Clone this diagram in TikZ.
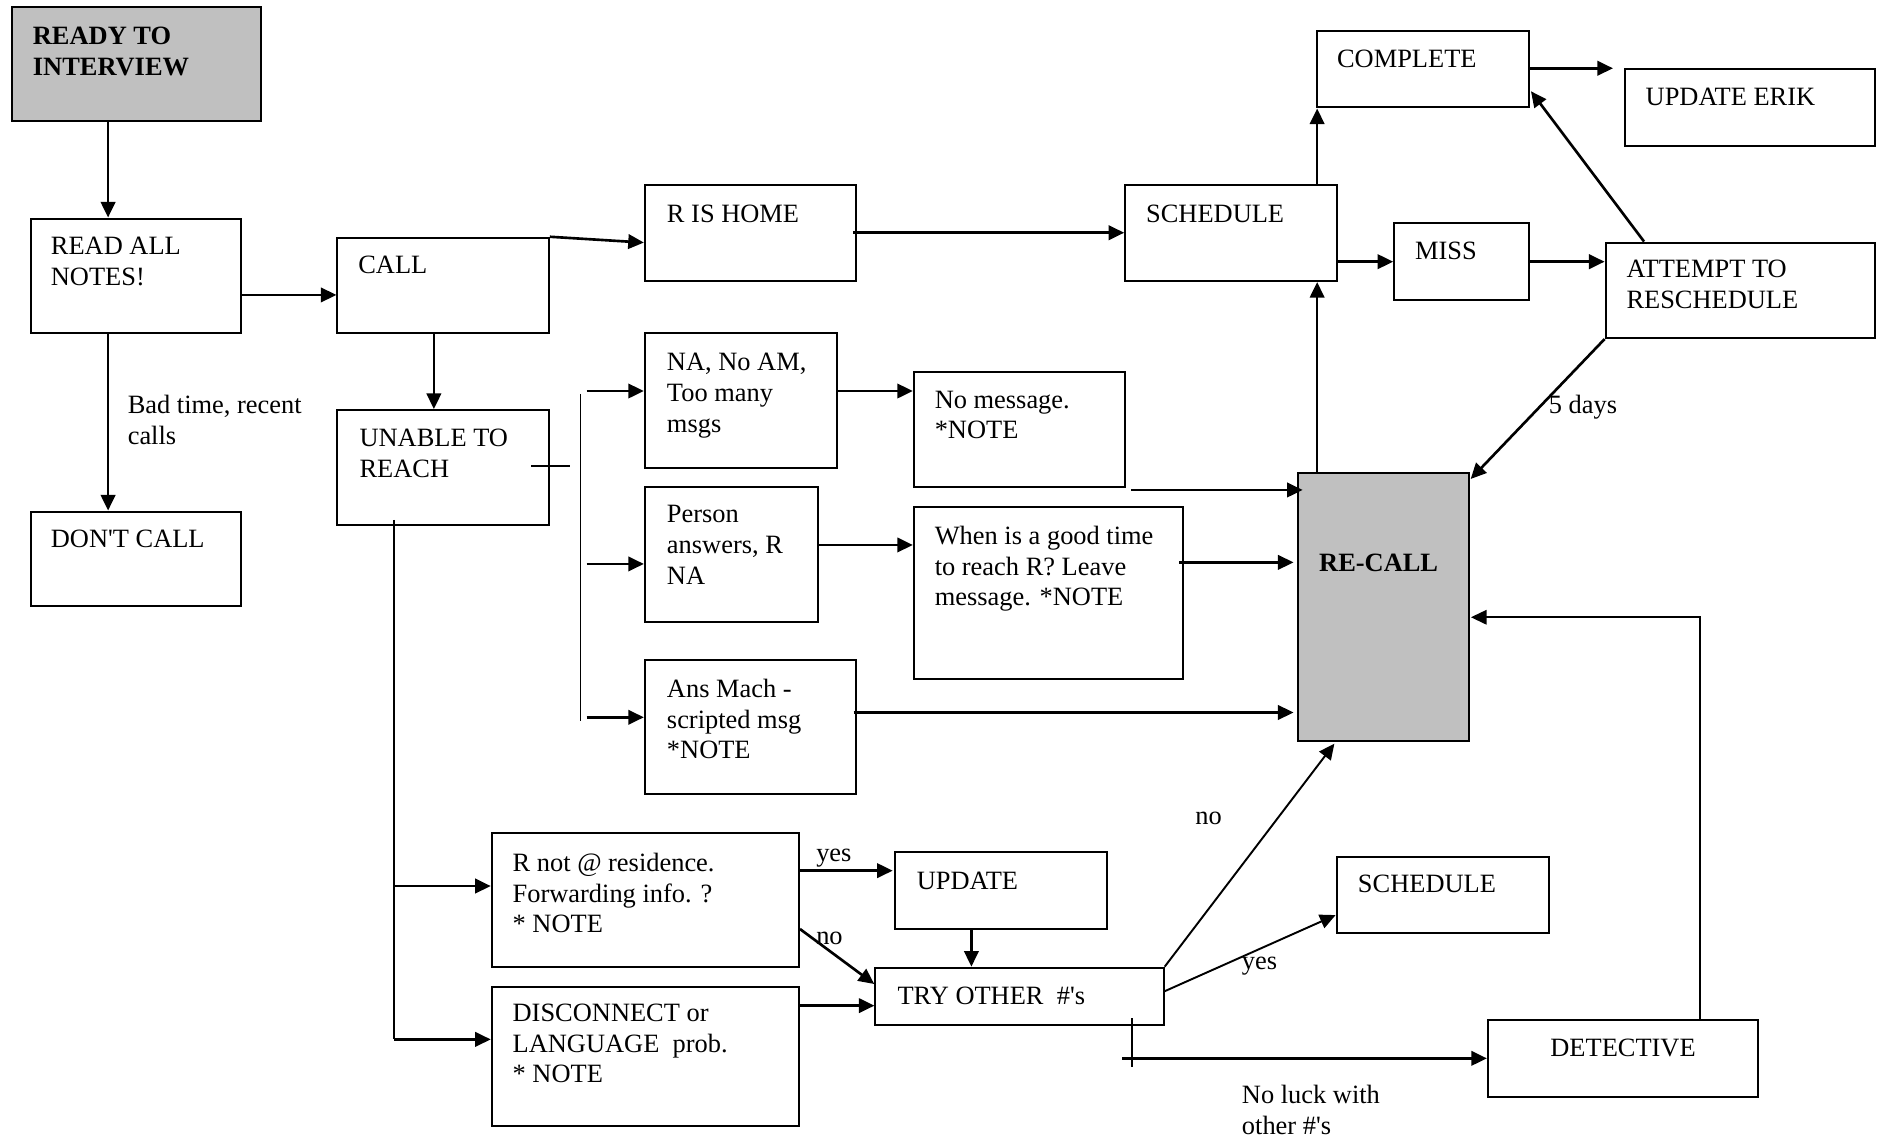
\documentclass[tikz,border=0pt]{standalone}
\usepackage{fontspec}
\setmainfont{Liberation Serif}
\usetikzlibrary{arrows.meta,fit,calc}
\definecolor{boxgrey}{RGB}{192,192,192}
\begin{document}
\begin{tikzpicture}[x=0.5pt,y=-0.5pt,
  box/.style={draw, line width=0.85pt, inner sep=0pt},
  greybox/.style={box, fill=boxgrey},
  txt/.style={inner sep=0pt, anchor=north west, align=left, font=\fontsize{11pt}{12.8pt}\selectfont},
  ctxt/.style={txt, anchor=north, align=center},
  arr/.style={line width=1.1pt, -{Triangle[length=6.5pt,width=6pt]}},
  thinarr/.style={line width=0.8pt, -{Triangle[length=6.5pt,width=6pt]}},
  thinline/.style={line width=0.7pt}]
\useasboundingbox (0,0) rectangle (1568,947);

% boxes
\node[greybox, fit={(10,6) (217,101)}] (ready) {};
\node[box, fit={(26,182) (201,277)}] (readall) {};
\node[box, fit={(281,198) (457,277)}] (call) {};
\node[box, fit={(537,154) (713,234)}] (rhome) {};
\node[box, fit={(937,154) (1113,234)}] (sched1) {};
\node[box, fit={(1097,26) (1273,89.5)}] (complete) {};
\node[box, fit={(1353,57.7) (1561,121.6)}] (erik) {};
\node[box, fit={(1161,186) (1273,249.5)}] (miss) {};
\node[box, fit={(1337,202) (1561,281.5)}] (attempt) {};
\node[box, fit={(26,426) (201,505)}] (dont) {};
\node[box, fit={(281,341.5) (457,437.5)}] (unable) {};
\node[box, fit={(537,277.6) (697,389.4)}] (na) {};
\node[box, fit={(761,309.5) (937,405.2)}] (nomsg) {};
\node[box, fit={(537,405.2) (681,517.7)}] (person) {};
\node[box, fit={(761,421.9) (985,565.4)}] (when) {};
\node[box, fit={(537,549.6) (713,661.2)}] (ans) {};
\node[greybox, fit={(1081,394) (1223,617)}] (recall) {};
\node[box, fit={(409.5,693.5) (665.3,805.5)}] (rnot) {};
\node[box, fit={(745.2,709.2) (921.5,773.3)}] (update) {};
\node[box, fit={(729,805.8) (969,853.5)}] (try) {};
\node[box, fit={(409.5,821.6) (665.3,937.4)}] (disc) {};
\node[box, fit={(1113,713.4) (1289.5,777.2)}] (sched2) {};
\node[box, fit={(1239,849.4) (1463.5,913.2)}] (detective) {};

% box texts
\node[txt] (t_ready) at (27,22) {\bfseries READY TO\\\bfseries INTERVIEW};
\node[txt] (t_readall) at (42,197) {READ ALL\\NOTES!};
\node[txt] (t_call) at (298,213) {CALL};
\node[txt] (t_rhome) at (555,170) {R IS HOME};
\node[txt] (t_sched1) at (954,170) {SCHEDULE};
\node[txt] (t_complete) at (1113,41) {COMPLETE};
\node[txt] (t_erik) at (1370,73) {UPDATE ERIK};
\node[txt] (t_miss) at (1178,201) {MISS};
\node[txt] (t_attempt) at (1354,216.5) {ATTEMPT TO\\RESCHEDULE};
\node[txt] (t_dont) at (42,441) {DON\textquotesingle T CALL};
\node[txt] (t_unable) at (299,356.7) {UNABLE TO\\REACH};
\node[txt] (t_na) at (555,294) {NA, No AM,\\Too many\\msgs};
\node[txt] (t_nomsg) at (778,325) {No message.\\*NOTE};
\node[txt] (t_person) at (555,420.5) {Person\\answers, R\\NA};
\node[txt] (t_when) at (778,437.7) {When is a good time\\to reach R? Leave\\message. *NOTE};
\node[txt] (t_ans) at (555,565) {Ans Mach -\\scripted msg\\*NOTE};
\node[ctxt] (t_recall) at (1148,461.3) {\bfseries RE-CALL};
\node[txt] (t_rnot) at (426.5,710) {R not @ residence.\\Forwarding info. ?\\* NOTE};
\node[txt] (t_update) at (763,726) {UPDATE};
\node[txt] (t_try) at (747,821.6) {TRY OTHER\ \ \#\textquotesingle s};
\node[txt] (t_disc) at (426.5,835.5) {DISCONNECT or\\LANGUAGE\ \ prob.\\* NOTE};
\node[txt] (t_sched2) at (1130.4,728.6) {SCHEDULE};
\node[ctxt] (t_detective) at (1351.5,864.6) {DETECTIVE};

% free labels
\node[txt] (l_bad) at (106,329) {Bad time, recent\\calls};
\node[txt] (l_5days) at (1289.3,329) {5 days};
\node[txt] (l_no1) at (995,676) {no};
\node[txt] (l_yes1) at (679.3,707) {yes};
\node[txt] (l_no2) at (679.3,775.8) {no};
\node[txt] (l_yes2) at (1033.8,796.6) {yes};
\node[txt] (l_noluck) at (1033.8,903.5) {No luck with\\other \#\textquotesingle s};

% connectors
\draw[arr] (90,0 |- ready.south) -- (90,0 |- readall.north);
\draw[arr] (90,0 |- readall.south) -- (90,0 |- dont.north);
\draw[arr] (readall.east |- 0,245.6) -- (call.west |- 0,245.6);
\draw[arr] (call.north east) -- (rhome.west |- 0,202);
\draw[arr] (361.3,0 |- call.south) -- (361.3,0 |- unable.north);

% unable-to-reach branch
\coordinate (tickL) at (442.4,388);
\coordinate (tickR) at (474.7,388);
\draw[thinline] (tickL) -- (tickR);
\coordinate (busT) at (483.3,328);
\coordinate (busB) at (483.3,600.4);
\draw[thinline] (busT) -- (busB);
\coordinate (b1) at (488.5,325.6);
\coordinate (b2) at (488.5,469.6);
\coordinate (b3) at (488.5,597.3);
\draw[arr] (b1) -- (na.west |- b1);
\draw[arr] (b2) -- (person.west |- b2);
\draw[arr] (b3) -- (ans.west |- b3);

\draw[arr] (na.east |- 0,325.6) -- (nomsg.west |- 0,325.6);
\draw[arr] (person.east |- 0,453.8) -- (when.west |- 0,453.8);
\coordinate (nm) at (942.2,408);
\draw[arr] (nm) -- ($(recall.west |- nm)+(4.6,0)$);
\coordinate (wh) at (982.1,468.3);
\draw[arr] (wh) -- ($(recall.west |- wh)+(-3,0)$);
\draw[arr] (710.8,593.3) -- ($(recall.west |- 0,593.3)+(-3,0)$);

% upper right
\draw[arr] (1096.8,0 |- recall.north) -- (1096.8,0 |- sched1.south);
\draw[arr] (710.7,193.8) -- (sched1.west |- 0,193.8);
\draw[arr] (1096.8,0 |- sched1.north) -- (1096.8,0 |- complete.south);
\draw[arr] (sched1.east |- 0,217.9) -- (miss.west |- 0,217.9);
\draw[arr] (miss.east |- 0,217.9) -- (attempt.west |- 0,217.9);
\draw[arr] (complete.east |- erik.north) -- ($(erik.north west)+(-9,0)$);
\draw[arr] (1369,0 |- attempt.north) -- ($(complete.east |- 0,76)+(1,0)$);
\draw[arr] (attempt.south west) -- ($(recall.north east)+(0.8,5.7)$);

% lower left branch
\coordinate (vT) at (327.9,433);
\coordinate (vB) at (327.9,865.5);
\draw[thinline] (vT) -- (vB);
\draw[arr] (327.9,737.8) -- (rnot.west |- 0,737.8);
\draw[arr] (vB) -- (disc.west |- vB);
\draw[arr] (rnot.east |- 0,725) -- ($(update.west |- 0,725)+(-1,0)$);
\draw[arr] (rnot.east |- 0,773.6) -- (728,819.4);
\draw[arr] (808.9,0 |- update.south) -- (808.9,0 |- try.north);
\draw[arr] (disc.east |- 0,837.4) -- (try.west |- 0,837.4);

% try other branches
\draw[thinarr] (try.north east) -- ($(recall.south west)+(31,1.4)$);
\draw[thinarr] (try.east |- 0,825.4) -- (sched2.west |- 0,762);
\coordinate (tk1) at (942.7,848);
\coordinate (tk2) at (942.7,888.2);
\draw[thinline] (tk1) -- (tk2);
\coordinate (dl) at (934.3,881.3);
\draw[arr] (dl) -- (detective.west |- dl);
\draw[thinarr] (1415.6,0 |- detective.north) |- ($(recall.east |- 0,514)+(1,0)$);
\end{tikzpicture}
\end{document}
